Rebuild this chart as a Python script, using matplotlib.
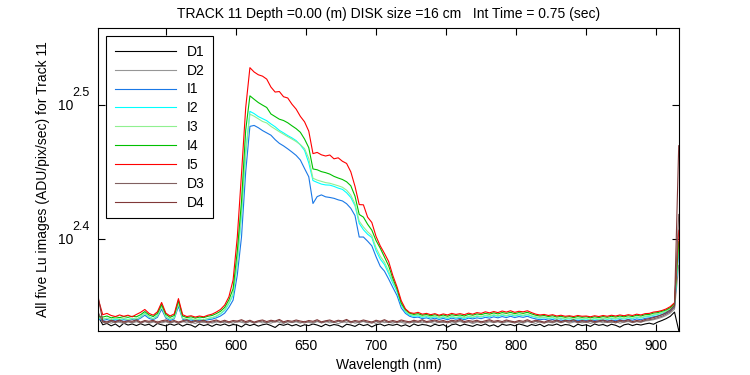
import numpy as np
import matplotlib
matplotlib.use('Agg')
import matplotlib.pyplot as plt
from matplotlib.ticker import FixedLocator, NullLocator, NullFormatter
from matplotlib.transforms import blended_transform_factory, offset_copy

plt.rcParams['font.family'] = ['Liberation Sans', 'DejaVu Sans']

# wavelength grid (nm), one sample every 3 nm from 502 to 916
wavelength = np.arange(502, 917, 3)

D1 = [219.5, 216.6, 217.1, 216.2, 216.9, 215.8, 217.2, 216.5, 216.9, 216.3,
      217.0, 216.4, 216.8, 215.9, 217.1, 216.6, 216.2, 216.9, 216.4, 217.0,
      216.1, 216.8, 216.5, 215.7, 216.9, 216.3, 216.7, 216.0, 216.8, 216.4,
      216.9, 216.2, 216.7, 216.5, 215.8, 216.9, 216.3, 216.8, 216.1, 216.6,
      216.9, 216.3, 215.6, 216.8, 216.4, 216.9, 216.2, 216.7, 216.0, 216.6,
      216.3, 216.9, 216.5, 215.9, 216.8, 216.2, 216.7, 216.4, 215.7, 216.8,
      216.5, 216.0, 216.9, 216.3, 216.7, 215.8, 216.6, 216.9, 216.2, 216.7,
      216.4, 216.8, 216.1, 216.6, 215.9, 216.9, 216.3, 216.7, 216.5, 216.0,
      216.8, 216.3, 216.7, 215.7, 216.6, 216.9, 216.2, 216.8, 216.4, 216.0,
      216.7, 216.3, 216.9, 216.1, 216.6, 215.8, 216.8, 216.4, 216.7, 216.2,
      216.9, 216.5, 216.0, 216.7, 216.3, 216.8, 215.9, 216.6, 216.4, 216.9,
      216.2, 216.7, 216.5, 215.8, 216.8, 216.3, 216.6, 216.0, 216.9, 216.4,
      216.7, 216.1, 216.8, 216.4, 215.7, 216.6, 216.9, 216.3, 216.8, 216.5,
      216.9, 217.2, 216.8, 217.6, 218.2, 218.9, 219.8, 221.4, 214.5]

D2 = [220.5, 217.4, 217.9, 217.2, 217.8, 217.5, 217.1, 217.9, 217.3, 217.7,
      217.4, 218.0, 217.2, 217.6, 217.9, 217.3, 217.7, 217.1, 217.8, 217.5,
      217.9, 217.3, 217.6, 217.0, 217.8, 217.4, 217.9, 217.2, 217.6, 217.8,
      217.3, 217.7, 217.1, 217.9, 217.5, 217.2, 217.8, 217.4, 217.9, 217.3,
      217.6, 217.2, 217.9, 217.5, 217.1, 217.8, 217.4, 217.7, 217.2, 217.9,
      217.5, 217.1, 217.8, 217.4, 217.9, 217.3, 217.6, 217.0, 217.7, 217.5,
      217.9, 217.2, 217.6, 217.8, 217.3, 217.7, 217.1, 217.9, 217.4, 217.6,
      217.2, 217.8, 217.5, 217.1, 217.9, 217.4, 217.7, 217.3, 217.8, 217.5,
      217.1, 217.7, 217.4, 217.9, 217.2, 217.6, 217.8, 217.3, 217.7, 217.0,
      217.6, 217.9, 217.3, 217.7, 217.4, 217.8, 217.2, 217.6, 217.9, 217.4,
      217.7, 217.2, 217.8, 217.5, 217.1, 217.9, 217.4, 217.6, 217.3, 217.8,
      217.4, 217.9, 217.2, 217.6, 217.8, 217.3, 217.7, 217.1, 217.6, 217.9,
      217.3, 217.7, 217.4, 217.9, 217.2, 217.6, 217.8, 217.5, 217.9, 217.6,
      218.0, 218.2, 218.5, 218.9, 219.4, 220.1, 221.0, 222.5, 240.0]

I1 = [218.7, 218.2, 218.6, 218.0, 218.4, 218.1, 218.5, 218.2, 218.6, 218.3,
      219.1, 220.2, 219.0, 218.5, 219.4, 222.5, 219.1, 218.2, 218.8, 223.6,
      218.7, 218.1, 218.4, 217.9, 218.3, 218.1, 218.5, 218.7, 219.2, 219.9,
      221.0, 223.2, 226.0, 236.0, 252.0, 282.0, 305.0, 305.5, 304.3, 302.8,
      301.6, 300.4, 298.1, 296.2, 294.9, 293.4, 291.8, 290.1, 287.8, 283.6,
      279.6, 267.0, 270.2, 271.0, 270.1, 269.8, 269.4, 268.7, 268.2, 266.9,
      264.8, 261.5, 252.0, 252.0, 250.2, 248.2, 243.6, 239.6, 237.6, 234.4,
      231.0, 227.8, 223.0, 220.9, 219.8, 219.3, 219.5, 218.9, 219.2, 218.7,
      219.1, 218.6, 219.0, 218.5, 219.1, 218.7, 219.0, 218.5, 219.1, 218.8,
      219.2, 218.9, 219.4, 219.1, 219.6, 219.2, 219.7, 219.3, 219.8, 219.3,
      219.7, 219.4, 219.8, 219.2, 218.8, 218.5, 218.7, 218.3, 218.6, 218.1,
      218.4, 218.0, 218.3, 217.9, 218.3, 218.0, 218.2, 217.8, 218.2, 217.9,
      218.3, 218.0, 218.4, 218.1, 218.5, 218.2, 218.6, 218.3, 218.8, 218.5,
      219.0, 219.2, 219.6, 219.9, 220.4, 220.9, 221.8, 223.5, 246.0]

I2 = [219.0, 218.6, 219.1, 218.4, 218.8, 218.5, 218.9, 218.6, 219.0, 218.7,
      219.6, 221.0, 219.5, 218.9, 220.1, 223.8, 219.7, 218.6, 219.3, 225.0,
      219.1, 218.5, 218.8, 218.3, 218.7, 218.5, 218.9, 219.2, 219.8, 220.7,
      222.0, 224.6, 228.0, 241.0, 262.0, 292.0, 313.0, 311.8, 310.2, 309.1,
      308.0, 306.3, 304.8, 302.9, 301.6, 300.2, 299.0, 297.6, 295.4, 292.6,
      286.4, 277.8, 276.9, 276.1, 275.7, 275.6, 275.0, 274.2, 273.6, 272.0,
      269.8, 266.0, 258.0, 255.2, 253.2, 251.8, 246.2, 242.6, 240.3, 236.6,
      232.7, 229.3, 224.2, 221.5, 220.2, 219.8, 220.0, 219.4, 219.7, 219.2,
      219.6, 219.1, 219.5, 219.0, 219.6, 219.2, 219.5, 219.0, 219.6, 219.3,
      219.8, 219.5, 220.0, 219.7, 220.2, 219.8, 220.3, 219.9, 220.4, 219.9,
      220.3, 220.0, 220.4, 219.8, 219.4, 219.1, 219.3, 218.9, 219.2, 218.7,
      219.0, 218.6, 218.9, 218.5, 218.9, 218.6, 218.8, 218.4, 218.8, 218.5,
      218.9, 218.6, 219.0, 218.7, 219.1, 218.8, 219.2, 218.9, 219.4, 219.1,
      219.6, 219.8, 220.2, 220.5, 221.0, 221.5, 222.4, 224.0, 248.0]

I3 = [219.2, 218.8, 219.0, 218.6, 219.1, 218.7, 219.0, 218.5, 218.9, 218.8,
      219.5, 220.8, 219.6, 218.8, 219.9, 223.5, 219.5, 218.8, 219.1, 224.6,
      219.0, 218.7, 218.9, 218.4, 218.8, 218.4, 219.0, 219.3, 219.9, 220.9,
      222.3, 224.9, 228.5, 241.5, 263.0, 291.0, 311.5, 310.4, 309.0, 307.6,
      306.8, 305.0, 303.6, 302.2, 300.9, 299.6, 298.4, 297.1, 295.6, 293.5,
      288.6, 278.9, 278.0, 277.4, 276.8, 276.5, 275.9, 275.3, 274.6, 273.2,
      270.9, 266.8, 259.0, 256.4, 254.3, 252.6, 247.4, 243.8, 241.3, 237.6,
      233.5, 229.9, 224.6, 221.8, 220.5, 220.1, 220.3, 219.7, 220.0, 219.5,
      219.8, 219.3, 219.7, 219.2, 219.8, 219.4, 219.7, 219.3, 219.8, 219.5,
      220.0, 219.7, 220.2, 219.9, 220.4, 220.0, 220.5, 220.1, 220.6, 220.2,
      220.5, 220.2, 220.6, 220.0, 219.6, 219.3, 219.5, 219.1, 219.4, 218.9,
      219.2, 218.8, 219.1, 218.7, 219.1, 218.8, 219.0, 218.6, 219.0, 218.7,
      219.1, 218.8, 219.2, 218.9, 219.3, 219.0, 219.4, 219.1, 219.6, 219.3,
      219.8, 220.0, 220.4, 220.7, 221.2, 221.8, 222.7, 224.3, 249.0]

I4 = [219.8, 219.5, 219.9, 219.2, 219.6, 219.3, 219.7, 219.4, 219.8, 219.6,
      220.4, 221.6, 220.3, 219.7, 220.9, 224.3, 220.5, 219.4, 220.1, 225.8,
      219.9, 219.3, 219.6, 219.1, 219.5, 219.3, 219.8, 220.1, 220.8, 221.7,
      223.2, 226.1, 230.5, 246.0, 268.0, 303.0, 321.5, 319.6, 317.8, 316.4,
      315.1, 311.6, 310.2, 308.8, 308.1, 306.9, 305.3, 303.8, 301.9, 298.4,
      294.0, 283.4, 283.0, 282.1, 281.6, 280.9, 279.8, 279.0, 278.3, 277.2,
      275.3, 270.4, 262.0, 260.8, 257.6, 255.0, 250.5, 247.2, 243.5, 239.8,
      234.6, 230.4, 224.8, 222.3, 221.0, 220.5, 220.8, 220.2, 220.5, 220.0,
      220.4, 219.9, 220.3, 219.8, 220.4, 220.1, 220.3, 219.9, 220.5, 220.2,
      220.7, 220.4, 220.9, 220.6, 221.1, 220.7, 221.2, 220.9, 221.3, 220.8,
      221.2, 220.9, 221.3, 220.7, 220.2, 219.9, 220.1, 219.7, 220.0, 219.5,
      219.8, 219.4, 219.7, 219.3, 219.7, 219.4, 219.6, 219.2, 219.6, 219.3,
      219.7, 219.4, 219.8, 219.5, 219.9, 219.6, 220.0, 219.7, 220.2, 219.9,
      220.4, 220.5, 221.0, 221.2, 221.7, 222.2, 223.1, 224.6, 250.0]

I5 = [226.0, 220.4, 220.9, 220.1, 219.7, 220.3, 219.8, 220.2, 219.6, 220.5,
      221.3, 222.4, 220.9, 220.2, 221.5, 225.1, 221.0, 219.9, 220.7, 226.6,
      220.4, 219.7, 220.0, 219.5, 219.9, 219.6, 220.2, 220.6, 221.4, 222.4,
      224.1, 227.3, 234.0, 252.0, 281.0, 315.0, 337.5, 335.0, 333.4, 332.6,
      330.9, 326.4, 323.6, 323.9, 321.0, 320.3, 316.9, 314.2, 310.3, 307.4,
      302.5, 291.0, 291.6, 290.4, 289.8, 290.3, 288.4, 288.9, 287.2, 286.1,
      282.0, 275.0, 266.5, 266.4, 260.8, 258.4, 252.3, 248.2, 245.0, 241.6,
      235.8, 231.2, 225.8, 222.6, 221.2, 220.9, 221.3, 220.6, 220.9, 220.4,
      220.8, 220.2, 220.7, 220.3, 220.9, 220.5, 220.8, 220.4, 221.0, 220.6,
      221.2, 220.9, 221.5, 221.1, 221.6, 221.2, 221.8, 221.4, 221.9, 221.3,
      221.7, 221.5, 221.9, 221.2, 220.6, 220.3, 220.5, 220.1, 220.4, 219.9,
      220.2, 219.8, 220.0, 219.7, 220.1, 219.8, 219.9, 219.6, 220.0, 219.7,
      220.1, 219.8, 220.2, 219.9, 220.3, 220.0, 220.4, 220.1, 220.6, 220.3,
      220.8, 220.9, 221.4, 221.6, 222.0, 222.6, 223.5, 225.0, 255.0]

D3 = [221.0, 217.6, 217.2, 217.9, 217.4, 218.0, 217.3, 217.7, 217.5, 218.1,
      217.2, 217.8, 217.5, 217.9, 217.1, 217.7, 218.0, 217.4, 217.8, 217.2,
      217.7, 218.1, 217.3, 217.8, 217.5, 217.9, 217.2, 217.6, 218.0, 217.4,
      217.9, 217.3, 217.8, 217.6, 218.1, 217.4, 217.9, 217.2, 217.7, 218.0,
      217.4, 217.9, 217.6, 218.2, 217.3, 217.8, 217.5, 218.0, 217.6, 217.3,
      217.8, 217.5, 218.1, 217.3, 217.7, 218.0, 217.4, 217.9, 217.6, 218.2,
      217.3, 217.8, 217.5, 218.0, 217.6, 217.2, 217.9, 217.5, 218.1, 217.4,
      217.8, 217.4, 218.0, 217.6, 217.3, 217.9, 217.5, 218.1, 217.4, 217.7,
      218.0, 217.5, 217.8, 217.3, 217.9, 217.6, 218.2, 217.4, 217.8, 217.5,
      217.9, 217.3, 217.7, 218.1, 217.5, 217.8, 217.4, 218.0, 217.6, 217.3,
      217.8, 217.5, 218.1, 217.4, 217.9, 217.6, 217.2, 217.8, 217.5, 218.0,
      217.4, 217.9, 217.6, 218.1, 217.3, 217.8, 217.5, 217.9, 217.4, 217.7,
      218.0, 217.5, 217.8, 217.3, 217.9, 217.6, 218.1, 217.4, 217.8, 217.6,
      218.2, 218.5, 218.8, 219.3, 219.8, 220.6, 221.5, 223.2, 262.0]

D4 = [226.5, 218.0, 217.6, 218.3, 217.8, 218.4, 217.7, 218.1, 217.9, 218.5,
      217.6, 218.2, 217.9, 218.3, 217.5, 218.1, 218.4, 217.8, 218.2, 217.6,
      218.1, 218.5, 217.7, 218.2, 217.9, 218.3, 217.6, 218.0, 218.4, 217.8,
      218.3, 217.7, 218.2, 218.0, 218.5, 217.8, 218.3, 217.6, 218.1, 218.4,
      217.8, 218.3, 218.0, 218.6, 217.7, 218.2, 217.9, 218.4, 218.0, 217.7,
      218.2, 217.9, 218.5, 217.7, 218.1, 218.4, 217.8, 218.3, 218.0, 218.6,
      217.7, 218.2, 217.9, 218.4, 218.0, 217.6, 218.3, 217.9, 218.5, 217.8,
      218.2, 217.8, 218.4, 218.0, 217.7, 218.3, 217.9, 218.5, 217.8, 218.1,
      218.4, 217.9, 218.2, 217.7, 218.3, 218.0, 218.6, 217.8, 218.2, 217.9,
      218.3, 217.7, 218.1, 218.5, 217.9, 218.2, 217.8, 218.4, 218.0, 217.7,
      218.2, 217.9, 218.5, 217.8, 218.3, 218.0, 217.6, 218.2, 217.9, 218.4,
      217.8, 218.3, 218.0, 218.5, 217.7, 218.2, 217.9, 218.3, 217.8, 218.1,
      218.4, 217.9, 218.2, 217.7, 218.3, 218.0, 218.5, 217.8, 218.2, 218.0,
      218.6, 218.9, 219.3, 219.8, 220.4, 221.2, 222.2, 224.0, 295.0]

names = ['D1', 'D2', 'I1', 'I2', 'I3', 'I4', 'I5', 'D3', 'D4']
series = [D1, D2, I1, I2, I3, I4, I5, D3, D4]
colors = ['#000000', '#969696', '#1a78e6', '#00ffff', '#90f090',
          '#00c000', '#ff0000', '#806060', '#803838']

# y tick positions (log10 exponents) and x ticks
y_exponents = ['2.4', '2.5']
x_ticks = [550, 600, 650, 700, 750, 800, 850, 900]

fig = plt.figure(figsize=(7.5, 3.75), dpi=100, facecolor='white')
ax = fig.add_axes([98/750, 1 - 331/375, (679 - 98)/750, (331 - 28)/375])

for name, vals, c in zip(names, series, colors):
  ax.plot(wavelength, vals, color=c, lw=0.8, label=name)

ax.set_yscale('log')
ax.set_xlim(501.6, 916.2)
ax.set_ylim(10**2.331, 10**2.558)

ax.xaxis.set_major_locator(FixedLocator(x_ticks))
ax.yaxis.set_major_locator(FixedLocator([10**float(e) for e in y_exponents]))
ax.yaxis.set_minor_locator(NullLocator())
ax.yaxis.set_major_formatter(NullFormatter())
ax.tick_params(direction='in', top=True, right=True, length=5, width=0.8,
               labelsize=10, pad=6)
for sp in ax.spines.values():
  sp.set_linewidth(0.8)

# MATLAB style "10^2.5" labels: base and raised exponent as two texts
trans = blended_transform_factory(ax.transAxes, ax.transData)
for e in y_exponents:
  yv = 10**float(e)
  base_t = offset_copy(trans, fig=fig, x=-25, y=-1, units='dots')
  ax.text(0, yv, '10', transform=base_t, ha='right', va='center', fontsize=10)
  sup_t = offset_copy(trans, fig=fig, x=-26, y=6, units='dots')
  ax.text(0, yv, e, transform=sup_t, ha='left', va='bottom', fontsize=9)

ax.set_xlabel('Wavelength (nm)', fontsize=10, labelpad=3)
ax.set_ylabel('All five Lu images (ADU/pix/sec) for Track 11', fontsize=10)
ax.yaxis.set_label_coords((50 - 98)/581, 0.5)
ax.set_title('TRACK 11 Depth =0.00 (m) DISK size =16 cm   Int Time = 0.75 (sec)',
             fontsize=10, pad=7)

leg = ax.legend(loc='upper left', fontsize=10, handlelength=4.4, labelspacing=0.35,
                borderaxespad=0.6, fancybox=False, edgecolor='black',
                framealpha=1, borderpad=0.6)
leg.get_frame().set_linewidth(0.8)

fig.savefig('out.png', dpi=100, facecolor='white')
